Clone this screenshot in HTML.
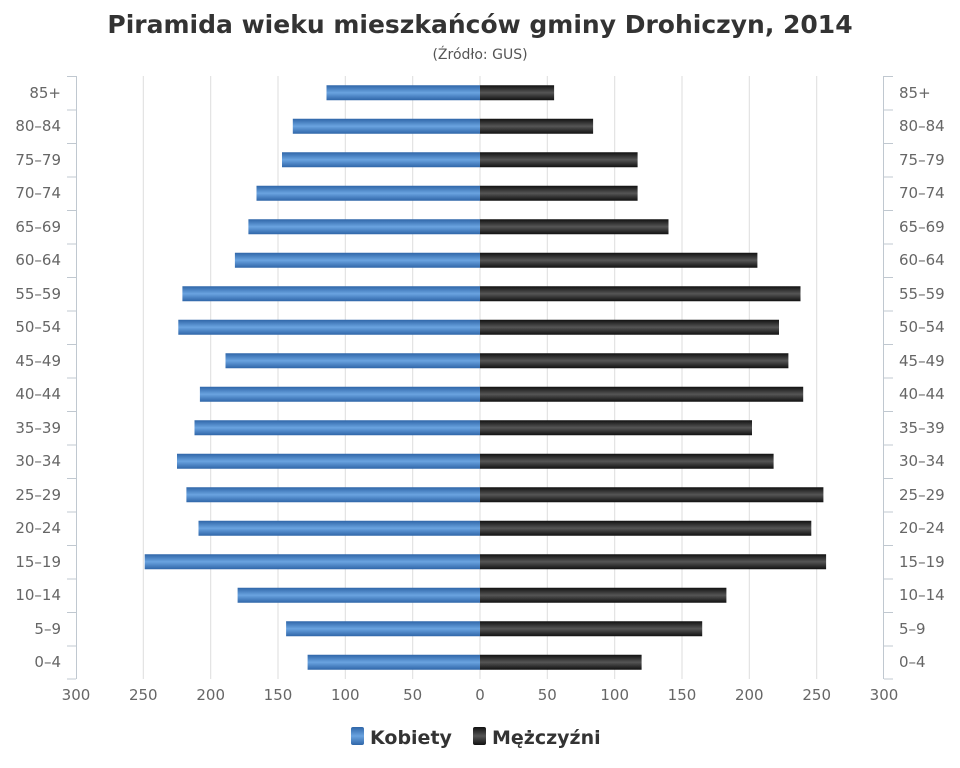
<!DOCTYPE html>
<html><head><meta charset="utf-8"><style>
body{margin:0;background:#fff}
svg{display:block;font-family:"DejaVu Sans","Liberation Sans",sans-serif}
</style></head><body>
<svg width="960" height="768" viewBox="0 0 960 768" xmlns="http://www.w3.org/2000/svg">
<defs>
<linearGradient id="gb" x1="0" y1="0" x2="0" y2="1">
<stop offset="0" stop-color="#2f66a8"/><stop offset="0.5" stop-color="#6aa3e0"/><stop offset="1" stop-color="#2f66a8"/>
</linearGradient>
<linearGradient id="gk" x1="0" y1="0" x2="0" y2="1">
<stop offset="0" stop-color="#111"/><stop offset="0.5" stop-color="#555"/><stop offset="1" stop-color="#111"/>
</linearGradient>
</defs>
<text x="480" y="33" text-anchor="middle" font-size="25" font-weight="bold" fill="#333">Piramida wieku mieszkańców gminy Drohiczyn, 2014</text>
<text x="480" y="59" text-anchor="middle" font-size="14" fill="#555">(Źródło: GUS)</text>
<g stroke="#ddd" stroke-width="1">
<line x1="143.3" y1="76" x2="143.3" y2="679"/><line x1="210.7" y1="76" x2="210.7" y2="679"/>
<line x1="278" y1="76" x2="278" y2="679"/><line x1="345.3" y1="76" x2="345.3" y2="679"/>
<line x1="412.7" y1="76" x2="412.7" y2="679"/><line x1="480" y1="76" x2="480" y2="679"/>
<line x1="547.3" y1="76" x2="547.3" y2="679"/><line x1="614.7" y1="76" x2="614.7" y2="679"/>
<line x1="682" y1="76" x2="682" y2="679"/><line x1="749.3" y1="76" x2="749.3" y2="679"/>
<line x1="816.7" y1="76" x2="816.7" y2="679"/>
</g>
<g stroke="#c0c8d0" stroke-width="1" fill="none">
<line x1="76.5" y1="76" x2="76.5" y2="679"/><line x1="883.5" y1="76" x2="883.5" y2="679"/>
<path d="M67 76.5H76M67 110H76M67 143.5H76M67 177H76M67 210.5H76M67 244H76M67 277.5H76M67 311H76M67 344.5H76M67 378H76M67 411.5H76M67 445H76M67 478.5H76M67 512H76M67 545.5H76M67 579H76M67 612.5H76M67 646H76M67 679H76"/>
<path d="M884 76.5H893M884 110H893M884 143.5H893M884 177H893M884 210.5H893M884 244H893M884 277.5H893M884 311H893M884 344.5H893M884 378H893M884 411.5H893M884 445H893M884 478.5H893M884 512H893M884 545.5H893M884 579H893M884 612.5H893M884 646H893M884 679H893"/>
</g>
<g font-size="15" fill="#666" text-anchor="middle">
<text x="76" y="700">300</text><text x="143.3" y="700">250</text><text x="210.7" y="700">200</text>
<text x="278" y="700">150</text><text x="345.3" y="700">100</text><text x="412.7" y="700">50</text>
<text x="480" y="700">0</text><text x="547.3" y="700">50</text><text x="614.7" y="700">100</text>
<text x="682" y="700">150</text><text x="749.3" y="700">200</text><text x="816.7" y="700">250</text>
<text x="884" y="700">300</text>
</g>
<g font-size="15" fill="#666" text-anchor="end">
<text x="61" y="98">85+</text><text x="61" y="131">80–84</text><text x="61" y="165">75–79</text>
<text x="61" y="198">70–74</text><text x="61" y="232">65–69</text><text x="61" y="265">60–64</text>
<text x="61" y="299">55–59</text><text x="61" y="332">50–54</text><text x="61" y="366">45–49</text>
<text x="61" y="399">40–44</text><text x="61" y="433">35–39</text><text x="61" y="466">30–34</text>
<text x="61" y="500">25–29</text><text x="61" y="533">20–24</text><text x="61" y="567">15–19</text>
<text x="61" y="600">10–14</text><text x="61" y="634">5–9</text><text x="61" y="667">0–4</text>
</g>
<g font-size="15" fill="#666">
<text x="899" y="98">85+</text><text x="899" y="131">80–84</text><text x="899" y="165">75–79</text>
<text x="899" y="198">70–74</text><text x="899" y="232">65–69</text><text x="899" y="265">60–64</text>
<text x="899" y="299">55–59</text><text x="899" y="332">50–54</text><text x="899" y="366">45–49</text>
<text x="899" y="399">40–44</text><text x="899" y="433">35–39</text><text x="899" y="466">30–34</text>
<text x="899" y="500">25–29</text><text x="899" y="533">20–24</text><text x="899" y="567">15–19</text>
<text x="899" y="600">10–14</text><text x="899" y="634">5–9</text><text x="899" y="667">0–4</text>
</g>
<g fill="url(#gb)">
<rect x="326.5" y="85.25" width="153.5" height="15"/>
<rect x="292.8" y="118.75" width="187.2" height="15"/>
<rect x="282" y="152.25" width="198" height="15"/>
<rect x="256.5" y="185.75" width="223.5" height="15"/>
<rect x="248.4" y="219.25" width="231.6" height="15"/>
<rect x="234.9" y="252.75" width="245.1" height="15"/>
<rect x="182.4" y="286.25" width="297.6" height="15"/>
<rect x="178.3" y="319.75" width="301.7" height="15"/>
<rect x="225.5" y="353.25" width="254.5" height="15"/>
<rect x="199.9" y="386.75" width="280.1" height="15"/>
<rect x="194.5" y="420.25" width="285.5" height="15"/>
<rect x="177" y="453.75" width="303" height="15"/>
<rect x="186.4" y="487.25" width="293.6" height="15"/>
<rect x="198.5" y="520.75" width="281.5" height="15"/>
<rect x="144.7" y="554.25" width="335.3" height="15"/>
<rect x="237.6" y="587.75" width="242.4" height="15"/>
<rect x="286.1" y="621.25" width="193.9" height="15"/>
<rect x="307.6" y="654.75" width="172.4" height="15"/>
</g>
<g fill="url(#gk)">
<rect x="480" y="85.25" width="74.1" height="15"/>
<rect x="480" y="118.75" width="113.1" height="15"/>
<rect x="480" y="152.25" width="157.6" height="15"/>
<rect x="480" y="185.75" width="157.6" height="15"/>
<rect x="480" y="219.25" width="188.5" height="15"/>
<rect x="480" y="252.75" width="277.4" height="15"/>
<rect x="480" y="286.25" width="320.5" height="15"/>
<rect x="480" y="319.75" width="299" height="15"/>
<rect x="480" y="353.25" width="308.4" height="15"/>
<rect x="480" y="386.75" width="323.2" height="15"/>
<rect x="480" y="420.25" width="272" height="15"/>
<rect x="480" y="453.75" width="293.6" height="15"/>
<rect x="480" y="487.25" width="343.4" height="15"/>
<rect x="480" y="520.75" width="331.3" height="15"/>
<rect x="480" y="554.25" width="346.1" height="15"/>
<rect x="480" y="587.75" width="246.4" height="15"/>
<rect x="480" y="621.25" width="222.2" height="15"/>
<rect x="480" y="654.75" width="161.6" height="15"/>
</g>
<rect x="351" y="727" width="13" height="18" rx="2" fill="url(#gb)"/>
<text x="370" y="744" font-size="19" font-weight="bold" fill="#333">Kobiety</text>
<rect x="473" y="727" width="13" height="18" rx="2" fill="url(#gk)"/>
<text x="492" y="744" font-size="19" font-weight="bold" fill="#333">Mężczyźni</text>
</svg>
</body></html>
